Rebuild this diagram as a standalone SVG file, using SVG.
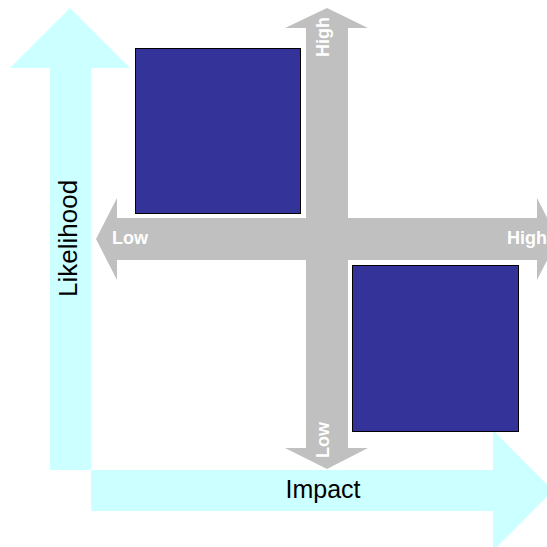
<svg xmlns="http://www.w3.org/2000/svg" width="547" height="547" viewBox="0 0 547 547">
<style>
.axis{fill:#CCFFFF;stroke:none}
.cross{fill:#C0C0C0;stroke:none}
.box{fill:#333399;stroke:#000;stroke-width:1}
.lbl{font-family:"Liberation Sans",Arial,sans-serif;font-weight:bold;font-size:18px;fill:#fff}
.ax{font-family:"Liberation Sans",Arial,sans-serif;fill:#000}
</style>
<rect width="547" height="547" fill="#fff"/>
<g id="connectors">
<g id="likelihood-axis">
<polygon class="axis" points="70,8 130,68 91,68 91,470 50,470 50,68 10,68"/>
<text class="ax" font-size="26" transform="translate(77,297) rotate(-90)">Likelihood</text>
</g>
<g id="impact-axis">
<polygon class="axis" points="91,470 493,470 493,430 553,490.5 493,551 493,511 91,511"/>
<text class="ax" font-size="25" x="323" y="498" text-anchor="middle">Impact</text>
</g>
<g id="cross-vertical">
<polygon class="cross" points="327,8 368,28 348,28 348,448 368,448 327,469 285,448 306,448 306,28 285,28"/>
</g>
<g id="cross-horizontal">
<polygon class="cross" points="96,239 117,198 117,218 537,218 537,198 558,239 537,280 537,260 117,260 117,280"/>
</g>
<text class="lbl" transform="translate(329,57) rotate(-90)">High</text>
<text class="lbl" transform="translate(329,458) rotate(-90)">Low</text>
<text class="lbl" x="112" y="244">Low</text>
<text class="lbl" x="507" y="244">High</text>
</g>
<g id="node-high-likelihood-low-impact">
<rect class="box" x="135.5" y="48.5" width="165" height="165"/>
</g>
<g id="node-low-likelihood-high-impact">
<rect class="box" x="352.5" y="265.5" width="166" height="166"/>
</g>
</svg>
